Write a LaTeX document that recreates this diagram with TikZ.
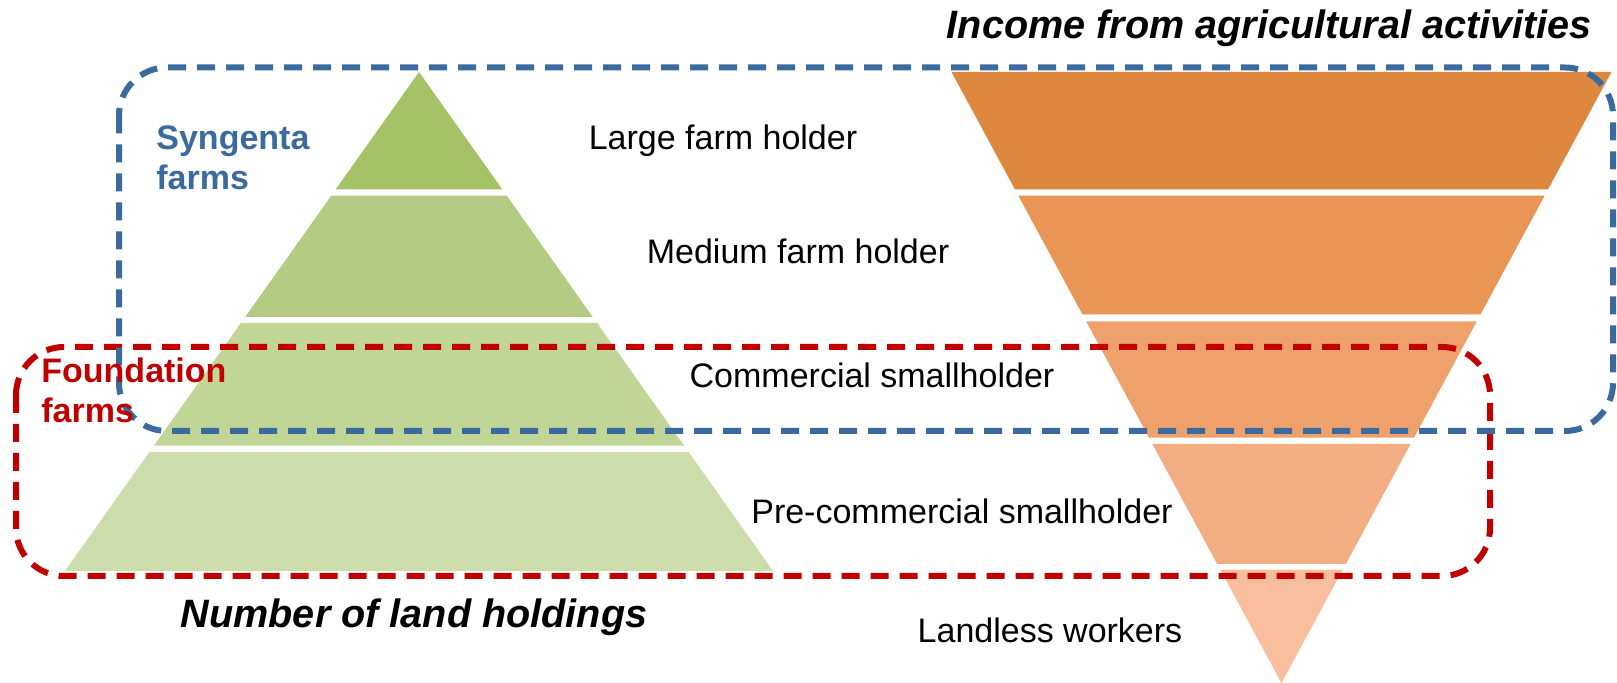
\documentclass[tikz,border=0pt]{standalone}
\usepackage{fontspec}
\setmainfont{Liberation Sans}
\definecolor{grnA}{HTML}{A6C266}
\definecolor{grnB}{HTML}{B3CB83}
\definecolor{grnC}{HTML}{C1D597}
\definecolor{grnD}{HTML}{CDDCAB}
\definecolor{orgA}{HTML}{DE873F}
\definecolor{orgB}{HTML}{E89556}
\definecolor{orgC}{HTML}{EFA16C}
\definecolor{orgD}{HTML}{F3AD82}
\definecolor{orgE}{HTML}{F8BE9D}
\definecolor{synblue}{HTML}{3A6A9E}
\definecolor{fndred}{HTML}{C00000}
\begin{document}
\begin{tikzpicture}[x=0.5pt,y=-0.5pt,
  lbl/.style={font=\fontsize{17}{20}\selectfont,anchor=base,inner sep=0pt},
  ttl/.style={font=\fontsize{19.8}{22}\selectfont\bfseries\itshape,anchor=base,inner sep=0pt},
  grp/.style={font=\fontsize{17}{20}\selectfont\bfseries,align=left,anchor=base west,inner sep=0pt},
  farmbox/.style={dash pattern=on 9pt off 5.5pt,line width=3pt,rounded corners=24pt}]
 \useasboundingbox (0,0) rectangle (1617,683);
 % land holdings
 \fill[grnA](419,72)--(335.6,189.5)--(502.4,189.5)--cycle;
 \fill[grnB](331.3,195.6)--(506.7,195.6)--(592.8,317)--(245.2,317)--cycle;
 \fill[grnC](240.9,323)--(597.1,323)--(684,445.6)--(154,445.6)--cycle;
 \fill[grnD](149.4,452)--(688.6,452)--(773,571)--(65,571)--cycle;
 % income
 \fill[orgA](951.5,72)--(1611.5,72)--(1548,189.5)--(1015,189.5)--cycle;
 \fill[orgB](1018.3,195.6)--(1544.7,195.6)--(1480.5,314.5)--(1082.5,314.5)--cycle;
 \fill[orgC](1086.2,321.4)--(1476.8,321.4)--(1414,437.7)--(1149,437.7)--cycle;
 \fill[orgD](1152.4,444)--(1410.6,444)--(1345.8,564)--(1217.2,564)--cycle;
 \fill[orgE](1220.3,569.7)--(1342.7,569.7)--(1281.5,683)--cycle;
 % labels
 \node[lbl] (large) at (723,150) {Large farm holder};
 \node[lbl] (medium) at (798,263.5) {Medium farm holder};
 \node[lbl] (comm) at (872,387.5) {Commercial smallholder};
 \node[lbl] (precomm) at (962,524) {Pre-commercial smallholder};
 \node[lbl] (landless) at (1050,642) {Landless workers};
 \node[ttl] (holdings) at (414,627) {Number of land holdings};
 \node[ttl,anchor=base east] (income) at (1592,39) {Income from agricultural activities};
 % groups
 \draw[farmbox,fndred] (16,347) rectangle (1490,576);
 \draw[farmbox,synblue] (119,67.5) rectangle (1613,431);
 \node[grp,text=synblue] (syngenta) at (156,189.5) {Syngenta\\farms};
 \node[grp,text=fndred] (foundation) at (41,423) {Foundation\\farms};
\end{tikzpicture}
\end{document}
